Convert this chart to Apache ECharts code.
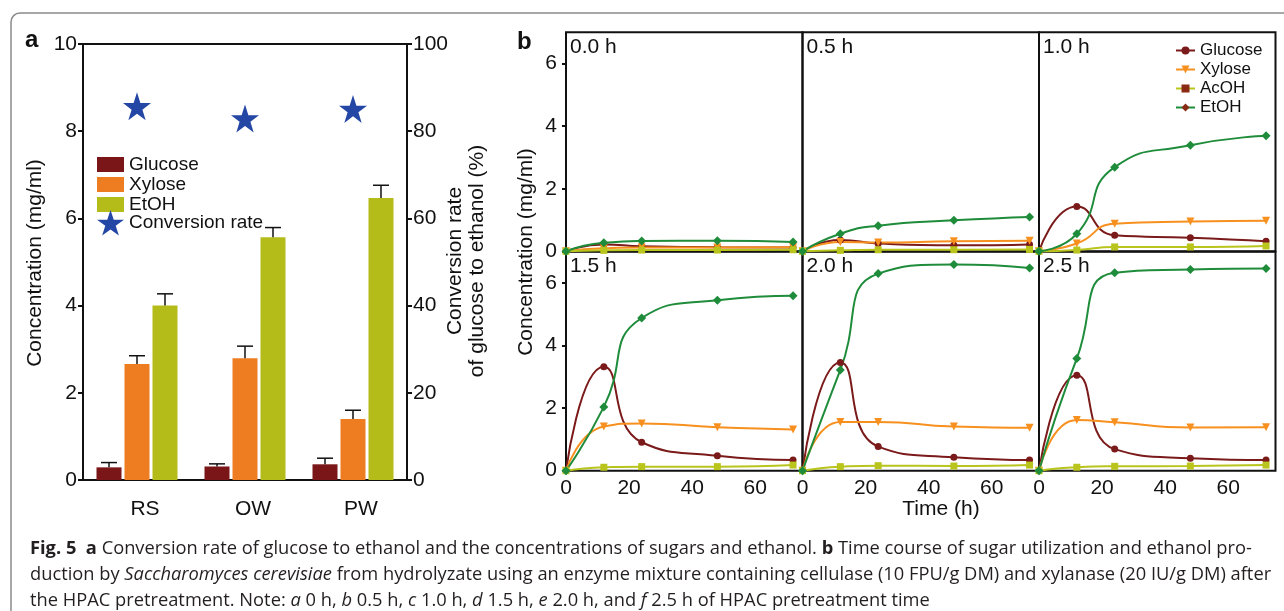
<!DOCTYPE html>
<html>
<head>
<meta charset="utf-8">
<title>Fig. 5</title>
<script src="https://cdn.jsdelivr.net/npm/echarts@6.0.0/dist/echarts.min.js"></script>
<style>
  html, body { margin: 0; padding: 0; background: #fff; }
  #chart { width: 1284px; height: 611px; }
</style>
</head>
<body>
<div id="chart"></div>
<script>
// panel a: concentrations after fermentation + conversion rate
const substrates = ['RS', 'OW', 'PW']
const glucoseA = [0.29, 0.31, 0.36]
const glucoseSd = [0.11, 0.06, 0.14]
const xyloseA = [2.66, 2.79, 1.40]
const xyloseSd = [0.19, 0.28, 0.20]
const etohA = [4.00, 5.57, 6.47]
const etohSd = [0.27, 0.22, 0.29]
const conversionRate = [85.7, 82.9, 85.1]

// panel b: time course, one row per pretreatment time
const timeH = [0, 12, 24, 48, 72]
const pretreatTimes = ['0.0 h', '0.5 h', '1.0 h', '1.5 h', '2.0 h', '2.5 h']
const glucoseB = [
  [0, 0.22, 0.16, 0.13, 0.12],
  [0, 0.36, 0.25, 0.19, 0.22],
  [0, 1.43, 0.51, 0.43, 0.32],
  [0, 3.32, 0.91, 0.48, 0.34],
  [0, 3.46, 0.77, 0.43, 0.34],
  [0, 3.05, 0.69, 0.40, 0.34],
]
const xyloseB = [
  [0, 0.10, 0.12, 0.12, 0.13],
  [0, 0.30, 0.28, 0.32, 0.34],
  [0, 0.25, 0.88, 0.95, 0.98],
  [0, 1.41, 1.51, 1.39, 1.32],
  [0, 1.56, 1.56, 1.41, 1.37],
  [0, 1.62, 1.55, 1.38, 1.39],
]
const acohB = [
  [0, 0.03, 0.04, 0.04, 0.05],
  [0, 0.03, 0.05, 0.05, 0.06],
  [0, 0.04, 0.14, 0.14, 0.17],
  [0, 0.11, 0.13, 0.13, 0.18],
  [0, 0.13, 0.16, 0.15, 0.18],
  [0, 0.11, 0.14, 0.15, 0.18],
]
const etohB = [
  [0, 0.27, 0.33, 0.34, 0.30],
  [0, 0.56, 0.82, 0.99, 1.10],
  [0, 0.56, 2.69, 3.39, 3.69],
  [0, 2.04, 4.88, 5.45, 5.59],
  [0, 3.22, 6.30, 6.59, 6.48],
  [0, 3.59, 6.33, 6.43, 6.46],
]

const FONT = 'Liberation Sans, Arial, sans-serif'
const CAP_FONT = 'Open Sans, sans-serif'
const INK = '#111'
const STAR = 'path://M50,0 L61.8,35.1 L98.9,35.1 L68.9,56.9 L80.3,92.1 L50,70.3 L19.7,92.1 L31.1,56.9 L1.1,35.1 L38.2,35.1 Z'

const chart = echarts.init(document.getElementById('chart'))

// error bar: stem from bar top to mean+sd, cap on top only
const errorBars = (values, sds, offset) => ({
  type: 'custom',
  xAxisIndex: 0,
  yAxisIndex: 0,
  silent: true,
  z: 5,
  data: values.map((v, i) => [i, v, sds[i]]),
  renderItem: (params, api) => {
    const base = api.coord([api.value(0), api.value(1)])
    const top = api.coord([api.value(0), api.value(1) + api.value(2)])
    const x = base[0] + offset
    const style = { stroke: INK, lineWidth: 1.5 }
    return {
      type: 'group',
      children: [
        { type: 'line', shape: { x1: x, y1: base[1], x2: x, y2: top[1] }, style },
        { type: 'line', shape: { x1: x - 8, y1: top[1], x2: x + 8, y2: top[1] }, style },
      ],
    }
  },
})

const grids = [{ left: 83, top: 44, width: 324, height: 436, show: true, borderColor: INK, borderWidth: 2 }]
const xAxes = [{
  type: 'category', gridIndex: 0, data: substrates,
  axisLine: { lineStyle: { color: INK, width: 2 } },
  axisTick: { alignWithLabel: true, length: 6, lineStyle: { color: INK, width: 2 } },
  axisLabel: { color: INK, fontSize: 21, fontFamily: FONT, margin: 19, padding: [0, 0, 0, 16] },
}]
const yAxes = [
  {
    type: 'value', gridIndex: 0, min: 0, max: 10, interval: 2,
    axisLine: { show: true, lineStyle: { color: INK, width: 2 } },
    axisTick: { show: true, length: 5, lineStyle: { color: INK, width: 2 } },
    splitLine: { show: false },
    axisLabel: { color: INK, fontSize: 21, fontFamily: FONT, margin: 6 },
  },
  {
    type: 'value', gridIndex: 0, position: 'right', min: 0, max: 100, interval: 20,
    axisLine: { show: true, lineStyle: { color: INK, width: 2 } },
    axisTick: { show: true, length: 5, lineStyle: { color: INK, width: 2 } },
    splitLine: { show: false },
    axisLabel: { color: INK, fontSize: 21, fontFamily: FONT, margin: 6 },
  },
]

const series = [
  { name: 'Glucose', type: 'bar', data: glucoseA, barWidth: 25, barGap: '12%', itemStyle: { color: '#7a1518' } },
  { name: 'Xylose', type: 'bar', data: xyloseA, barWidth: 25, barGap: '12%', itemStyle: { color: '#ee7d22' } },
  { name: 'EtOH', type: 'bar', data: etohA, barWidth: 25, barGap: '12%', itemStyle: { color: '#b4bc19' } },
  errorBars(glucoseA, glucoseSd, -28),
  errorBars(xyloseA, xyloseSd, 0),
  errorBars(etohA, etohSd, 28),
  {
    name: 'Conversion rate', type: 'scatter', yAxisIndex: 1, data: conversionRate,
    symbol: STAR, symbolSize: 28, itemStyle: { color: '#2447a6', opacity: 1 }, z: 6,
  },
]

// panel b grids, 2 rows x 3 columns
const colLeft = [566, 802.5, 1039]
const rowTop = [32.3, 251.7]
const lineDefs = [
  { key: 'b-Glucose', data: glucoseB, color: '#7b1a1a', symbol: 'circle', size: 7, rotate: 0 },
  { key: 'b-Xylose', data: xyloseB, color: '#f7901e', symbol: 'triangle', size: 8, rotate: 180 },
  { key: 'b-AcOH', data: acohB, color: '#b9c41c', symbol: 'rect', size: 7, rotate: 0 },
  { key: 'b-EtOH', data: etohB, color: '#1e8c3a', symbol: 'diamond', size: 9, rotate: 0 },
]

pretreatTimes.forEach((label, p) => {
  const row = Math.floor(p / 3)
  const col = p % 3
  const g = p + 1
  grids.push({
    left: colLeft[col], top: rowTop[row], width: 236.5, height: 219,
    show: true, borderColor: INK, borderWidth: 2,
  })
  xAxes.push({
    type: 'value', gridIndex: g, min: 0, max: 75, interval: 20,
    axisLine: { show: false }, axisTick: { show: false }, splitLine: { show: false },
    axisLabel: { show: row === 1, showMaxLabel: false, color: INK, fontSize: 21, fontFamily: FONT, margin: 7 },
  })
  yAxes.push({
    type: 'value', gridIndex: g, min: 0, max: 7, interval: 2,
    axisLine: { show: false },
    axisTick: { show: col === 0, length: 4, lineStyle: { color: INK, width: 2 } },
    splitLine: { show: false },
    axisLabel: { show: col === 0, showMaxLabel: false, color: INK, fontSize: 21, fontFamily: FONT, margin: 9 },
  })
  lineDefs.forEach((d) => {
    series.push({
      name: d.key, type: 'line', xAxisIndex: g, yAxisIndex: g + 1,
      data: timeH.map((t, j) => [t, d.data[p][j]]),
      smooth: 0.55, clip: false,
      symbol: d.symbol, symbolSize: d.size, symbolRotate: d.rotate, showSymbol: true,
      lineStyle: { color: d.color, width: 2 },
      itemStyle: { color: d.color },
    })
  })
})

const panelLabels = pretreatTimes.map((label, p) => ({
  type: 'text',
  left: colLeft[p % 3] + 4,
  top: rowTop[Math.floor(p / 3)] + 4,
  style: { text: label, fontSize: 21, fontFamily: FONT, fill: INK },
}))

const captionStyle = { fontSize: 18.3, fontFamily: CAP_FONT, fill: '#231f20' }
const captionRich = {
  b: { fontSize: 18.3, fontFamily: CAP_FONT, fontWeight: 'bold', fill: '#231f20' },
  i: { fontSize: 18.3, fontFamily: CAP_FONT, fontStyle: 'italic', fill: '#231f20' },
}
const captionLines = [
  '{b|Fig. 5}  {b|a} Conversion rate of glucose to ethanol and the concentrations of sugars and ethanol. {b|b} Time course of sugar utilization and ethanol pro-',
  'duction by {i|Saccharomyces cerevisiae} from hydrolyzate using an enzyme mixture containing cellulase (10 FPU/g DM) and xylanase (20 IU/g DM) after',
  'the HPAC pretreatment. Note: {i|a} 0 h, {i|b} 0.5 h, {i|c} 1.0 h, {i|d} 1.5 h, {i|e} 2.0 h, and {i|f} 2.5 h of HPAC pretreatment time',
]

const option = {
  animation: false,
  backgroundColor: '#fff',
  grid: grids,
  xAxis: xAxes,
  yAxis: yAxes,
  series,
  legend: [
    {
      data: ['Glucose', 'Xylose', 'EtOH'],
      orient: 'vertical', left: 97, top: 155, padding: 0, itemWidth: 27, itemHeight: 15, itemGap: 1,
      icon: 'rect', selectedMode: false,
      textStyle: { fontSize: 19, fontFamily: FONT, color: INK },
    },
    {
      data: ['Conversion rate'],
      orient: 'vertical', left: 97, top: 210, padding: 0, itemWidth: 27, itemHeight: 27,
      icon: STAR, selectedMode: false,
      textStyle: { fontSize: 19, fontFamily: FONT, color: INK },
    },
    {
      data: [
        { name: 'b-Glucose' },
        { name: 'b-Xylose' },
        { name: 'b-AcOH', itemStyle: { color: '#8a2a14' } },
        { name: 'b-EtOH', itemStyle: { color: '#8a2a14' } },
      ],
      formatter: (n) => n.slice(2),
      orient: 'vertical', left: 1175, top: 42, padding: 0, itemWidth: 19, itemHeight: 10, itemGap: 2,
      selectedMode: false,
      textStyle: { fontSize: 17, fontFamily: FONT, color: INK },
    },
  ],
  graphic: [
    // figure frame
    {
      type: 'rect', shape: { x: 11, y: 13, width: 1300, height: 620, r: 9 },
      style: { fill: 'none', stroke: '#8a8a8a', lineWidth: 1.5 }, silent: true,
    },
    { type: 'text', left: 25, top: 28, style: { text: 'a', fontSize: 24, fontWeight: 'bold', fontFamily: FONT, fill: INK } },
    { type: 'text', left: 517, top: 30, style: { text: 'b', fontSize: 24, fontWeight: 'bold', fontFamily: FONT, fill: INK } },
    {
      type: 'text', x: 35, y: 263, rotation: Math.PI / 2,
      style: { text: 'Concentration (mg/ml)', fontSize: 21, fontFamily: FONT, fill: INK, align: 'center', verticalAlign: 'middle' },
    },
    {
      type: 'text', x: 466, y: 261, rotation: Math.PI / 2,
      style: { text: 'Conversion rate\nof glucose to ethanol (%)', fontSize: 21, lineHeight: 22, fontFamily: FONT, fill: INK, align: 'center', verticalAlign: 'middle' },
    },
    {
      type: 'text', x: 526, y: 252, rotation: Math.PI / 2,
      style: { text: 'Concentration (mg/ml)', fontSize: 21, fontFamily: FONT, fill: INK, align: 'center', verticalAlign: 'middle' },
    },
    {
      type: 'text', x: 941, y: 509,
      style: { text: 'Time (h)', fontSize: 21, fontFamily: FONT, fill: INK, align: 'center', verticalAlign: 'middle' },
    },
    ...panelLabels,
    ...captionLines.map((line, k) => ({
      type: 'text', x: 30, y: 549 + k * 26,
      style: Object.assign({ text: line, rich: captionRich, verticalAlign: 'middle' }, captionStyle),
    })),
  ],
}

chart.setOption(option)
</script>
</body>
</html>
